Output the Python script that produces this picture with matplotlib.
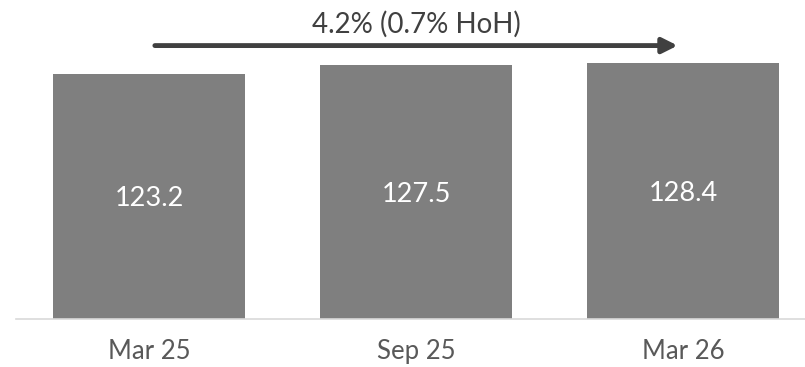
import matplotlib
matplotlib.use("Agg")
import matplotlib.pyplot as plt

categories = ["Mar 25", "Sep 25", "Mar 26"]
values = [123.2, 127.5, 128.4]
growth_label = "4.2% (0.7% HoH)"

plt.rcParams['font.family'] = ['Lato', 'DejaVu Sans']

W, H = 805, 367
fig = plt.figure(figsize=(W / 100, H / 100), dpi=100)
left_px, right_px, base_px = 15.5, 805, 319
ax = fig.add_axes([left_px / W, (H - base_px) / H, (right_px - left_px) / W, base_px / H])

spacing = 267.0
x = list(range(len(categories)))
ax.bar(x, values, width=0.72, color="#7f7f7f")
ax.set_xlim(-0.5, (right_px - left_px) / spacing - 0.5)
ax.set_ylim(0, base_px / 1.99)

for xi, v in zip(x, values):
    ax.text(xi, v / 2, f"{v:.1f}", ha="center", va="center_baseline",
            color="white", fontsize=19.5)

for s in ["top", "right", "left"]:
    ax.spines[s].set_visible(False)
ax.spines["bottom"].set_color("#d9d9d9")
ax.spines["bottom"].set_linewidth(1.2)
ax.set_yticks([])
ax.set_xticks(x)
ax.set_xticklabels(categories, fontsize=18.5, color="#595959")
ax.tick_params(axis="x", length=0, pad=14.5)

ay = max(values) + 9.0
ax.annotate("", xy=(x[-1] - 0.02, ay), xytext=(x[0] + 0.022, ay),
            arrowprops=dict(arrowstyle="-|>,head_length=0.9,head_width=0.45",
                            color="#404040", lw=3.5, shrinkA=0, shrinkB=0))
ax.text((x[0] + x[-1]) / 2, ay + 6.3, growth_label, ha="center", va="baseline",
        fontsize=20, color="#404040")

fig.savefig("out.png", dpi=100)
